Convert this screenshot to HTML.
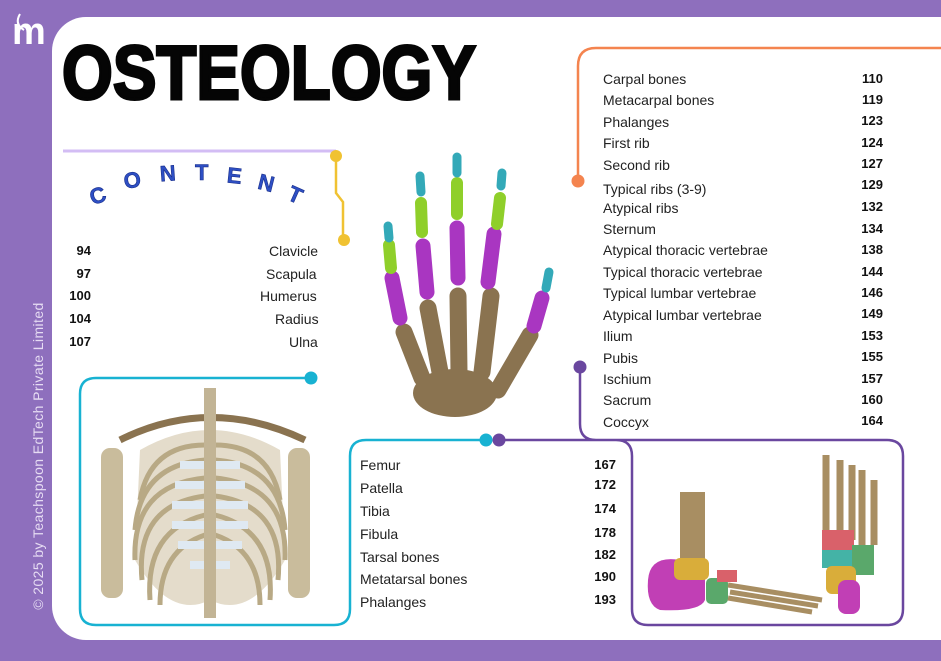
<!DOCTYPE html>
<html><head><meta charset="utf-8"><style>
html,body{margin:0;padding:0}
body{width:941px;height:661px;background:#8e6fbd;position:relative;overflow:hidden;font-family:"Liberation Sans","DejaVu Sans",sans-serif}
#panel{position:absolute;left:52px;top:17px;width:900px;height:623px;background:#fff;border-radius:34px 0 0 34px}
.t{position:absolute;font-size:14px;color:#222;white-space:nowrap}
.n{position:absolute;font-size:13px;font-weight:bold;color:#111;text-align:right;width:40px}
#title{position:absolute;left:62px;top:30px;font-size:76px;font-weight:900;letter-spacing:0px;color:#050505;font-family:"Liberation Sans",sans-serif;-webkit-text-stroke:3px #050505;transform:scaleX(0.86);transform-origin:0 0}
#copy{position:absolute;left:-122px;top:448px;width:320px;transform:rotate(-90deg);color:#e6dcf3;font-size:14px;letter-spacing:.4px;text-align:center}
svg{position:absolute;left:0;top:0}
</style></head><body>
<div id="panel"></div>
<div id="copy">© 2025 by Teachspoon EdTech Private Limited</div>
<div id="title">OSTEOLOGY</div>
<svg width="941" height="661" viewBox="0 0 941 661">
<text x="12" y="44" font-family="Liberation Sans" font-weight="bold" font-size="38" fill="#fff">m</text>
<path d="M20 14 q-6 10 4 16" stroke="#fff" stroke-width="2" fill="none"/>
<line x1="63" y1="151" x2="336" y2="151" stroke="#d3bdf4" stroke-width="3"/>
<path d="M336 156 V193 L343 202 V240" stroke="#f0c232" stroke-width="2.5" fill="none"/>
<circle cx="336" cy="156" r="6" fill="#f0c232"/><circle cx="344" cy="240" r="6" fill="#f0c232"/>
<g font-family="Liberation Sans" font-weight="900" font-size="22" fill="#2e4fc4" stroke="#1a2f8a" stroke-width=".6">
<text x="90" y="203" transform="rotate(-20 98 196)">C</text>
<text x="124" y="188" transform="rotate(-10 130 182)">O</text>
<text x="160" y="181" transform="rotate(-4 166 175)">N</text>
<text x="195" y="180">T</text>
<text x="227" y="183" transform="rotate(6 233 177)">E</text>
<text x="258" y="190" transform="rotate(14 264 184)">N</text>
<text x="288" y="202" transform="rotate(24 294 196)">T</text>
</g>
<path d="M578 180 V66 Q578 48 596 48 H941" stroke="#f4844f" stroke-width="2.5" fill="none"/>
<circle cx="578" cy="181" r="6.5" fill="#f4844f"/>
<path d="M580 367 V424 Q580 440 596 440 H887 Q903 440 903 456 V609 Q903 625 887 625 H648 Q632 625 632 609 V456 Q632 440 616 440 H498" stroke="#6a479f" stroke-width="2.5" fill="none"/>
<circle cx="580" cy="367" r="6.5" fill="#6a479f"/><circle cx="499" cy="440" r="6.5" fill="#6a479f"/>
<path d="M311 378 H96 Q80 378 80 394 V609 Q80 625 96 625 H334 Q350 625 350 609 V456 Q350 440 366 440 H486" stroke="#18b2d2" stroke-width="2.5" fill="none"/>
<circle cx="311" cy="378" r="6.5" fill="#18b2d2"/><circle cx="486" cy="440" r="6.5" fill="#18b2d2"/>
<g stroke-linecap="round" fill="none">
<g stroke="#8a7350" stroke-width="17">
<path d="M404 332 L422 378"/><path d="M428 308 L440 372"/><path d="M458 296 L459 372"/><path d="M491 296 L482 372"/><path d="M530 335 L498 390"/>
</g>
<ellipse cx="455" cy="393" rx="42" ry="24" fill="#8a7350"/>
<g stroke="#a936c1" stroke-width="15">
<path d="M392 278 L400 318"/><path d="M423 246 L427 292"/><path d="M457 228 L458 278"/><path d="M494 234 L488 282"/><path d="M542 298 L534 326"/>
</g>
<g stroke="#8fcf2a" stroke-width="12">
<path d="M389 245 L391 268"/><path d="M421 203 L422 232"/><path d="M457 183 L457 214"/><path d="M500 198 L497 224"/>
</g>
<g stroke="#33a9b8" stroke-width="9">
<path d="M388 226 L389 238"/><path d="M420 176 L421 192"/><path d="M457 157 L457 173"/><path d="M502 173 L501 186"/><path d="M549 272 L546 288"/>
</g>
</g>
<g fill="none">
<path d="M120 440 Q210 395 305 440" stroke="#8a7350" stroke-width="7"/>
<rect x="101" y="448" width="22" height="150" rx="9" fill="#c9bc9c"/>
<rect x="288" y="448" width="22" height="150" rx="9" fill="#c9bc9c"/>
<path d="M140 450 Q210 410 280 450 L285 560 Q250 620 210 600 Q170 620 135 560 Z" fill="#e4dccb"/>
<g stroke="#b8a985" stroke-width="5">
<path d="M205 445 Q150 445 140 500"/><path d="M205 460 Q140 465 135 530"/><path d="M205 478 Q132 485 135 560"/><path d="M205 496 Q135 505 142 580"/><path d="M205 515 Q145 530 150 600"/><path d="M205 535 Q160 550 160 605"/>
<path d="M215 445 Q270 445 280 500"/><path d="M215 460 Q280 465 285 530"/><path d="M215 478 Q288 485 285 560"/><path d="M215 496 Q285 505 278 580"/><path d="M215 515 Q275 530 270 600"/><path d="M215 535 Q260 550 260 605"/>
</g>
<path d="M180 465 L240 465 M175 485 L245 485 M172 505 L248 505 M172 525 L248 525 M178 545 L242 545 M190 565 L230 565" stroke="#dfe9f2" stroke-width="8"/>
<rect x="204" y="388" width="12" height="230" fill="#c2b495"/>
</g>
<g>
<rect x="680" y="492" width="25" height="80" fill="#a88e62"/>
<path d="M648 580 Q650 555 680 560 L705 572 L705 600 Q700 612 660 610 Q646 605 648 580Z" fill="#c13fb5"/>
<rect x="674" y="558" width="35" height="22" rx="6" fill="#d9ad3a"/>
<rect x="706" y="578" width="22" height="26" rx="5" fill="#5aa86b"/>
<rect x="717" y="570" width="20" height="12" fill="#d9616a"/>
<path d="M728 585 L822 600 M730 592 L818 606 M728 598 L812 612" stroke="#a88e62" stroke-width="5"/>
<path d="M826 455 V540 M840 460 V540 M852 465 V540 M862 470 V545 M874 480 V545" stroke="#a88e62" stroke-width="7"/>
<rect x="822" y="530" width="32" height="22" fill="#d9616a"/>
<rect x="822" y="550" width="30" height="18" fill="#44b3a6"/>
<rect x="852" y="545" width="22" height="30" fill="#5aa86b"/>
<rect x="826" y="566" width="30" height="28" rx="6" fill="#d9ad3a"/>
<rect x="838" y="580" width="22" height="34" rx="8" fill="#c13fb5"/>
</g>
</svg>
<div class="n" style="left:51px;top:243px">94</div><div class="t" style="left:269px;top:243px">Clavicle</div>
<div class="n" style="left:51px;top:266px">97</div><div class="t" style="left:266px;top:266px">Scapula</div>
<div class="n" style="left:51px;top:288px">100</div><div class="t" style="left:260px;top:288px">Humerus</div>
<div class="n" style="left:51px;top:311px">104</div><div class="t" style="left:275px;top:311px">Radius</div>
<div class="n" style="left:51px;top:334px">107</div><div class="t" style="left:289px;top:334px">Ulna</div>

<div class="t" style="left:603px;top:71px">Carpal bones</div><div class="n" style="left:843px;top:71px">110</div>
<div class="t" style="left:603px;top:92px">Metacarpal bones</div><div class="n" style="left:843px;top:92px">119</div>
<div class="t" style="left:603px;top:114px">Phalanges</div><div class="n" style="left:843px;top:113px">123</div>
<div class="t" style="left:603px;top:135px">First rib</div><div class="n" style="left:843px;top:135px">124</div>
<div class="t" style="left:603px;top:157px">Second rib</div><div class="n" style="left:843px;top:156px">127</div>
<div class="t" style="left:603px;top:181px">Typical ribs (3-9)</div><div class="n" style="left:843px;top:177px">129</div>
<div class="t" style="left:603px;top:200px">Atypical ribs</div><div class="n" style="left:843px;top:199px">132</div>
<div class="t" style="left:603px;top:221px">Sternum</div><div class="n" style="left:843px;top:221px">134</div>
<div class="t" style="left:603px;top:242px">Atypical thoracic vertebrae</div><div class="n" style="left:843px;top:242px">138</div>
<div class="t" style="left:603px;top:264px">Typical thoracic vertebrae</div><div class="n" style="left:843px;top:264px">144</div>
<div class="t" style="left:603px;top:285px">Typical lumbar vertebrae</div><div class="n" style="left:843px;top:285px">146</div>
<div class="t" style="left:603px;top:307px">Atypical lumbar vertebrae</div><div class="n" style="left:843px;top:306px">149</div>
<div class="t" style="left:603px;top:328px">Ilium</div><div class="n" style="left:843px;top:328px">153</div>
<div class="t" style="left:603px;top:350px">Pubis</div><div class="n" style="left:843px;top:349px">155</div>
<div class="t" style="left:603px;top:371px">Ischium</div><div class="n" style="left:843px;top:371px">157</div>
<div class="t" style="left:603px;top:392px">Sacrum</div><div class="n" style="left:843px;top:392px">160</div>
<div class="t" style="left:603px;top:414px">Coccyx</div><div class="n" style="left:843px;top:413px">164</div>

<div class="t" style="left:360px;top:457px">Femur</div><div class="n" style="left:576px;top:457px">167</div>
<div class="t" style="left:360px;top:480px">Patella</div><div class="n" style="left:576px;top:477px">172</div>
<div class="t" style="left:360px;top:503px">Tibia</div><div class="n" style="left:576px;top:501px">174</div>
<div class="t" style="left:360px;top:526px">Fibula</div><div class="n" style="left:576px;top:525px">178</div>
<div class="t" style="left:360px;top:549px">Tarsal bones</div><div class="n" style="left:576px;top:547px">182</div>
<div class="t" style="left:360px;top:571px">Metatarsal bones</div><div class="n" style="left:576px;top:569px">190</div>
<div class="t" style="left:360px;top:594px">Phalanges</div><div class="n" style="left:576px;top:592px">193</div>
</body></html>
